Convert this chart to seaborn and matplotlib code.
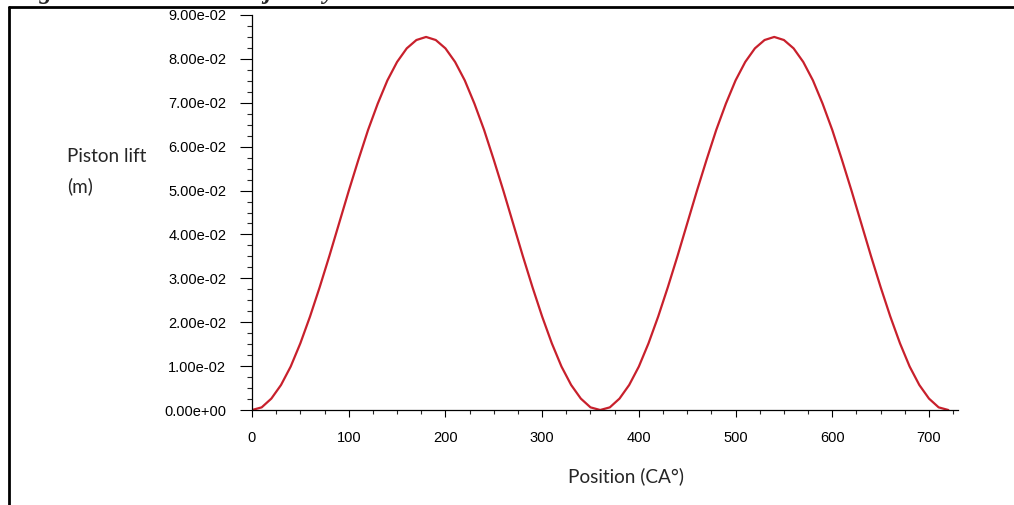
import numpy as np
import pandas as pd
import matplotlib
matplotlib.use("Agg")
import matplotlib.pyplot as plt
from matplotlib.lines import Line2D
from matplotlib.ticker import MultipleLocator, FuncFormatter
import seaborn as sns

# Crank angle (degrees) and piston lift (m) over two revolutions
crank_angle = [0, 10, 20, 30, 40, 50, 60, 70, 80, 90, 100, 110, 120, 130, 140, 150,
               160, 170, 180, 190, 200, 210, 220, 230, 240, 250, 260, 270, 280, 290,
               300, 310, 320, 330, 340, 350, 360, 370, 380, 390, 400, 410, 420, 430,
               440, 450, 460, 470, 480, 490, 500, 510, 520, 530, 540, 550, 560, 570,
               580, 590, 600, 610, 620, 630, 640, 650, 660, 670, 680, 690, 700, 710, 720]
piston_lift = [0.0000, 0.0006, 0.0026, 0.0057, 0.0099, 0.0152, 0.0213, 0.0280, 0.0351,
               0.0425, 0.0499, 0.0570, 0.0638, 0.0698, 0.0751, 0.0793, 0.0824, 0.0843,
               0.0850, 0.0843, 0.0824, 0.0793, 0.0751, 0.0698, 0.0638, 0.0570, 0.0499,
               0.0425, 0.0351, 0.0280, 0.0213, 0.0152, 0.0099, 0.0057, 0.0026, 0.0006,
               0.0000, 0.0006, 0.0026, 0.0057, 0.0099, 0.0152, 0.0213, 0.0280, 0.0351,
               0.0425, 0.0499, 0.0570, 0.0638, 0.0698, 0.0751, 0.0793, 0.0824, 0.0843,
               0.0850, 0.0843, 0.0824, 0.0793, 0.0751, 0.0698, 0.0638, 0.0570, 0.0499,
               0.0425, 0.0351, 0.0280, 0.0213, 0.0152, 0.0099, 0.0057, 0.0026, 0.0006,
               0.0000]

x_label = "Position (CA°)"
y_label_lines = ["Piston lift", "(m)"]
caption = "Figure 3: Piston rise trajectory"

sns.set_style("ticks")
plt.rcParams["font.family"] = ["Liberation Sans", "DejaVu Sans"]

df = pd.DataFrame({"angle": crank_angle, "lift": piston_lift})

fig = plt.figure(figsize=(10.14, 5.05), dpi=100)
fig.patch.set_facecolor("white")
ax = fig.add_axes([252 / 1014, 95 / 505, 706 / 1014, 395 / 505])

sns.lineplot(data=df, x="angle", y="lift", ax=ax, color="#c8202c", linewidth=1.6)

ax.set_xlim(0, 730)
ax.set_ylim(0, 0.09)
ax.xaxis.set_major_locator(MultipleLocator(100))
ax.xaxis.set_minor_locator(MultipleLocator(25))
ax.yaxis.set_major_locator(MultipleLocator(0.01))
ax.yaxis.set_minor_locator(MultipleLocator(0.0025))

ax.yaxis.set_major_formatter(FuncFormatter(lambda v, p: f"{v:.2e}"))
ax.xaxis.set_major_formatter(FuncFormatter(lambda v, p: f"{int(round(v))}"))

ax.tick_params(axis="y", which="major", length=8.6, width=0.8, pad=10, labelsize=10.5, colors="black")
ax.tick_params(axis="y", which="minor", length=3.6, width=0.8)
ax.tick_params(axis="x", which="major", length=5, width=0.8, pad=10, labelsize=10.5, colors="black")
ax.tick_params(axis="x", which="minor", length=3, width=0.8)

sns.despine(ax=ax)
for side in ("left", "bottom"):
    ax.spines[side].set_color("black")
    ax.spines[side].set_linewidth(0.9)

ax.set_xlabel("")
ax.set_ylabel("")

label_font = ["Lato", "DejaVu Sans"]
fig.text(67 / 1014, 1 - 157 / 505, y_label_lines[0], family=label_font, fontsize=13.6,
         ha="left", va="center")
fig.text(67 / 1014, 1 - 186 / 505, y_label_lines[1], family=label_font, fontsize=13.6,
         ha="left", va="center")
fig.text(626 / 1014, 1 - 476 / 505, x_label, family=label_font, fontsize=13.7,
         ha="center", va="center")

# Page frame, with the caption running off the top edge
fig.add_artist(Line2D([9 / 1014, 9 / 1014], [0, 1 - 7 / 505], transform=fig.transFigure,
                      color="black", linewidth=2))
fig.add_artist(Line2D([9 / 1014, 1], [1 - 7 / 505, 1 - 7 / 505], transform=fig.transFigure,
                      color="black", linewidth=2))
fig.text(16 / 1014, 1 + 0.5 / 505, caption, family=["Liberation Serif", "DejaVu Serif"],
         fontsize=18, fontweight="bold", fontstyle="italic", ha="left", va="baseline")

fig.savefig("out.png", dpi=100)
